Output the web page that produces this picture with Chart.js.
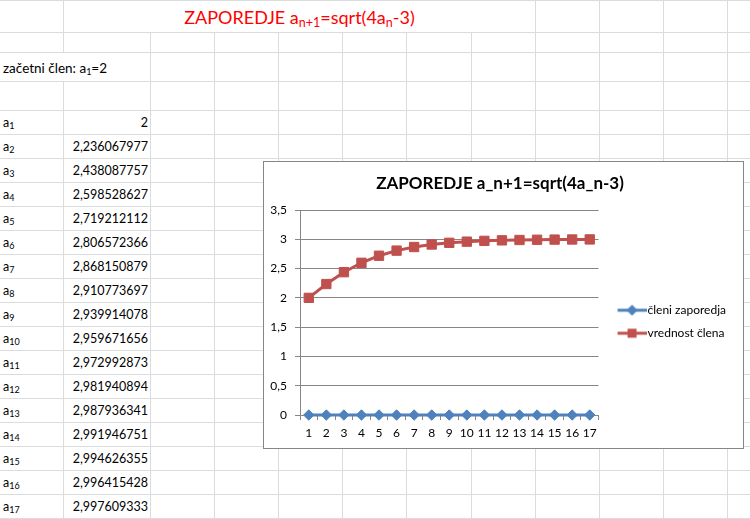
<!DOCTYPE html>
<html>
<head>
<meta charset="utf-8">
<script src="https://cdn.jsdelivr.net/npm/chart.js@4.4.0/dist/chart.umd.min.js"></script>
<style>
  html, body { margin: 0; padding: 0; background: #fff; }
  body { width: 750px; height: 519px; position: relative; overflow: hidden; font-family: Lato, "Open Sans", sans-serif; }
  .gl { position: absolute; background: #dadcdd; }
  .cell { position: absolute; white-space: nowrap; font-size: 12.5px; color: #000; line-height: 26px; }
  .cell sub { font-size: 9px; vertical-align: -2px; line-height: 0; }
  #title { color: #ff0000; font-size: 18px; text-align: center; line-height: 34px; }
  #title sub { font-size: 12.5px; vertical-align: -3px; }
  #start { font-size: 13.5px; }
  #box { position: absolute; left: 263px; top: 161px; width: 479px; height: 286px; border: 1px solid #868686; background: #fff; z-index: 2; }
</style>
</head>
<body>
<div id="sheet"></div>
<div id="box"><canvas id="graph" width="479" height="286"></canvas></div>
<script>
const categories = ['1', '2', '3', '4', '5', '6', '7', '8', '9', '10', '11', '12', '13', '14', '15', '16', '17'];
const clenZaporedja = [0, 0, 0, 0, 0, 0, 0, 0, 0, 0, 0, 0, 0, 0, 0, 0, 0];
const vrednostClena = [2, 2.236067977, 2.438087757, 2.598528627, 2.719212112, 2.806572366, 2.868150879,
  2.910773697, 2.939914078, 2.959671656, 2.972992873, 2.981940894, 2.987936341, 2.991946751,
  2.994626355, 2.996415428, 2.997609333];
const seriesNames = ['členi zaporedja', 'vrednost člena'];
const seriesColors = ['#4f81bd', '#c0504d'];
const chartTitle = 'ZAPOREDJE a_n+1=sqrt(4a_n-3)';

// spreadsheet grid
const sheet = document.getElementById('sheet');
const colX = [63, 150, 214, 278, 342, 406, 471, 535, 599, 663, 727];
const rowY = [0, 32, 52, 81];
for (let i = 0; i <= 17; i++) rowY.push(110 + 24 * i);

function addDiv(cls, css, html) {
  const d = document.createElement('div');
  d.className = cls;
  d.style.cssText = css;
  if (html) d.innerHTML = html;
  sheet.appendChild(d);
  return d;
}

rowY.forEach(y => addDiv('gl', `left:0;top:${y}px;width:750px;height:1px;`));
for (let r = 0; r < rowY.length; r++) {
  const top = rowY[r];
  const bottom = r + 1 < rowY.length ? rowY[r + 1] : 519;
  colX.forEach(x => {
    if (r === 0 && x > 63 && x < 535) return;   // merged title cell
    if (r === 2 && x === 63) return;            // text overflows into B
    addDiv('gl', `left:${x}px;top:${top}px;width:1px;height:${bottom - top}px;`);
  });
}

addDiv('cell', 'left:64px;top:0;width:471px;height:32px;', 'ZAPOREDJE a<sub>n+1</sub>=sqrt(4a<sub>n</sub>-3)').id = 'title';
addDiv('cell', 'left:3px;top:55px;', 'začetni člen: a<sub>1</sub>=2').id = 'start';

vrednostClena.forEach((v, i) => {
  const top = rowY[4 + i];
  addDiv('cell', `left:3px;top:${top}px;`, `a<sub>${i + 1}</sub>`);
  addDiv('cell', `left:64px;top:${top}px;width:84px;text-align:right;`, String(v).replace('.', ','));
});

// legend icons: line with marker, as in Excel
const legendFont = '12px Lato';
const mctx = document.createElement('canvas').getContext('2d');
mctx.font = legendFont;
const textW = Math.max(...seriesNames.map(s => mctx.measureText(s).width));
const boxW = 32;
const padRight = Math.max(0, Math.round(144 - (21 + boxW + 6 + textW)));

function legendIcon(color, kind) {
  const c = document.createElement('canvas');
  c.width = 42; c.height = 12;
  const g = c.getContext('2d');
  g.strokeStyle = color; g.lineWidth = 3;
  g.beginPath(); g.moveTo(13, 6); g.lineTo(42, 6); g.stroke();
  g.fillStyle = color;
  const xm = 27.5;
  if (kind === 'rect') {
    g.fillRect(xm - 4.5, 1.5, 9, 9);
  } else {
    g.beginPath();
    g.moveTo(xm, 0.5); g.lineTo(xm + 5.5, 6); g.lineTo(xm, 11.5); g.lineTo(xm - 5.5, 6);
    g.closePath(); g.fill();
  }
  return c;
}
const icons = [legendIcon(seriesColors[0], 'rectRot'), legendIcon(seriesColors[1], 'rect')];

const ctx = document.getElementById('graph').getContext('2d');
new Chart(ctx, {
  type: 'line',
  data: {
    labels: categories,
    datasets: [
      {
        label: seriesNames[0],
        data: clenZaporedja,
        borderColor: seriesColors[0],
        backgroundColor: seriesColors[0],
        borderWidth: 3,
        pointStyle: 'rectRot',
        pointRadius: 5.2,
        pointBorderWidth: 1,
        tension: 0,
        clip: false
      },
      {
        label: seriesNames[1],
        data: vrednostClena,
        borderColor: seriesColors[1],
        backgroundColor: seriesColors[1],
        borderWidth: 3,
        pointStyle: 'rect',
        pointRadius: 6.6,
        pointBorderWidth: 1,
        tension: 0,
        clip: false
      }
    ]
  },
  options: {
    responsive: false,
    animation: false,
    events: [],
    layout: { padding: { right: padRight } },
    plugins: {
      title: {
        display: true,
        text: chartTitle,
        color: '#000',
        font: { family: 'Lato', size: 17, weight: 'bold' },
        padding: { top: 11, bottom: 16.6 }
      },
      legend: {
        position: 'right',
        fullSize: false,
        maxWidth: 144,
        title: { display: true, text: '', font: { size: 12 }, padding: 2 },
        labels: {
          color: '#000',
          font: { family: 'Lato', size: 12 },
          usePointStyle: true,
          pointStyleWidth: boxW,
          padding: 11,
          generateLabels(chart) {
            const items = Chart.defaults.plugins.legend.labels.generateLabels(chart);
            items.forEach((it, i) => { it.pointStyle = icons[i]; });
            return items;
          }
        }
      },
      tooltip: { enabled: false }
    },
    scales: {
      x: {
        offset: true,
        afterFit: s => { s.height = 33; },
        grid: { offset: true, drawOnChartArea: false, drawTicks: true, tickLength: 5, color: '#868686' },
        border: { color: '#868686' },
        ticks: { autoSkip: false, maxRotation: 0, padding: 6, color: '#000', font: { family: 'Lato', size: 12 } }
      },
      y: {
        min: 0,
        max: 3.5,
        afterFit: s => { s.width = 36; },
        grid: { color: '#868686', tickLength: 5 },
        border: { color: '#868686' },
        ticks: {
          stepSize: 0.5,
          padding: 8,
          color: '#000',
          font: { family: 'Lato', size: 12 },
          callback: v => String(v).replace('.', ',')
        }
      }
    }
  }
});
</script>
</body>
</html>
